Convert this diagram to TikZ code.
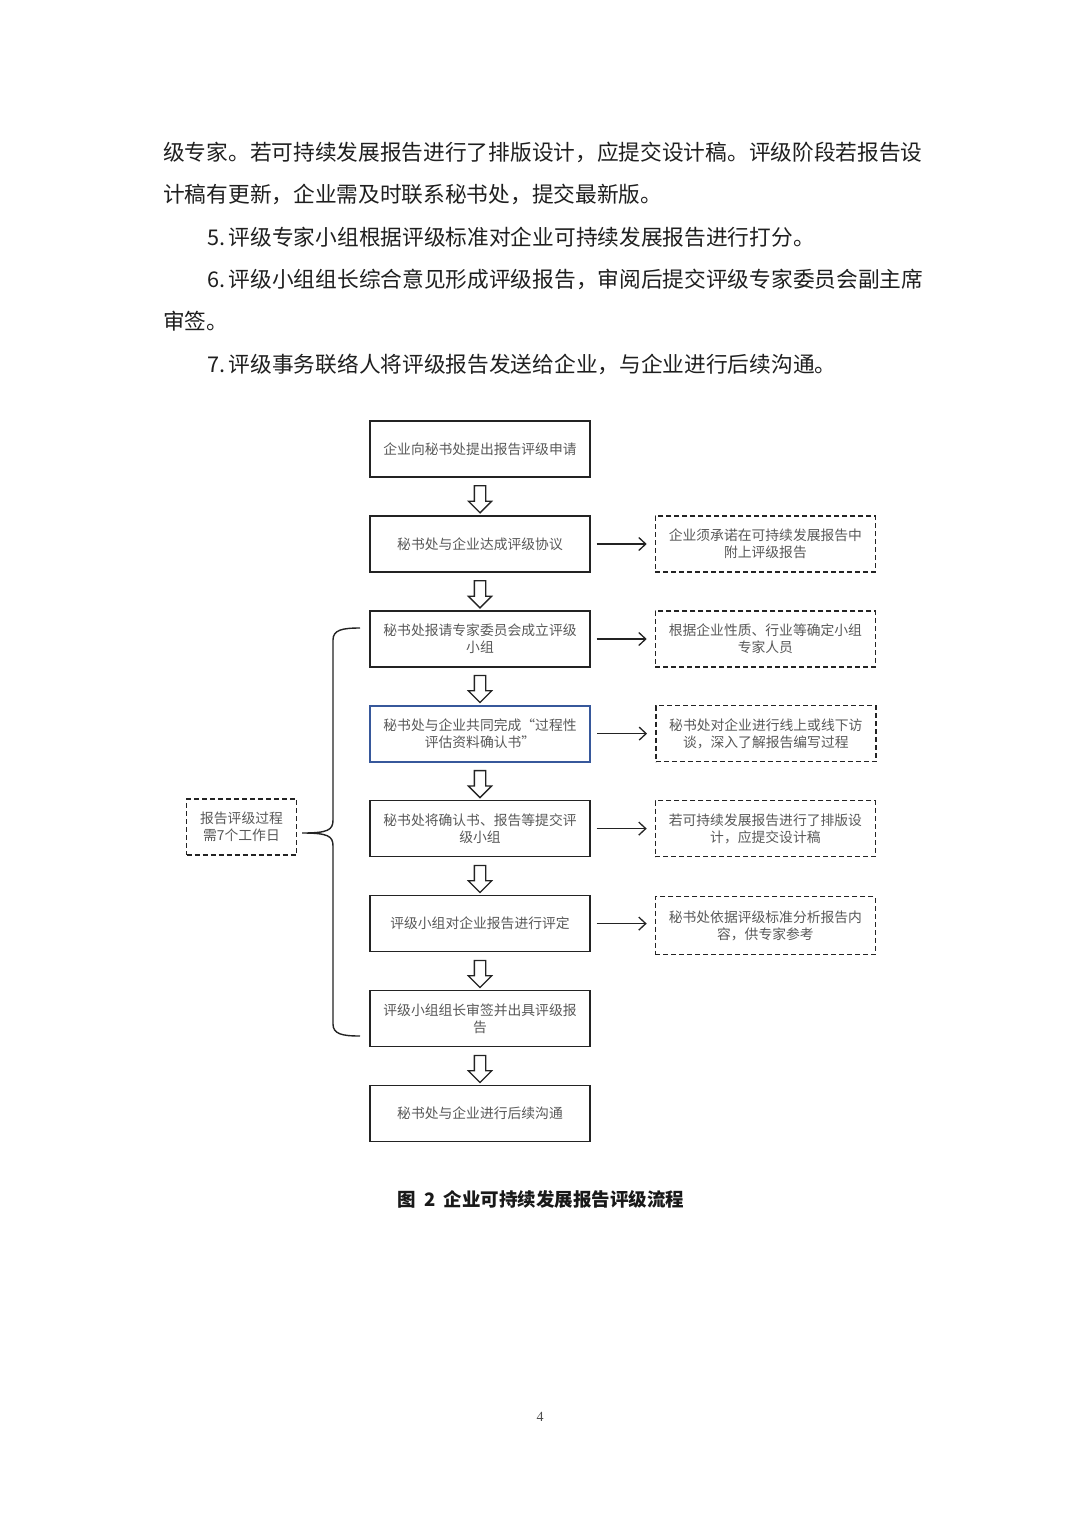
\documentclass[tikz,border=0pt]{standalone}
\usepackage{fontspec}
\setmainfont{Liberation Serif}
\newfontfamily\cjk{Noto Sans CJK SC}
\usetikzlibrary{calc}
\usetikzlibrary{positioning}
\usetikzlibrary{shapes.arrows}
\usetikzlibrary{arrows.meta}

\definecolor{inkgray}{RGB}{88,88,88}
\definecolor{framedark}{RGB}{35,35,35}
\definecolor{frameblue}{RGB}{55,88,155}

\begin{document}
\begin{tikzpicture}[x=1pt, y=-1pt,
        bodyline/.style={anchor=west, inner sep=0pt, text=black!88,
            font=\cjk\fontsize{21.7}{21.7}\selectfont},
        stepbox/.style={draw=framedark, line width=1.4pt, minimum width=220pt,
            minimum height=56pt, align=center, text=inkgray, inner sep=2pt,
            font=\cjk\fontsize{13.8}{17}\selectfont},
        notebox/.style={stepbox, dash pattern=on 5pt off 3pt},
        hollow/.style={single arrow, draw=framedark, fill=white, line width=1.3pt,
            shape border rotate=270, minimum height=27pt, minimum width=22pt,
            inner sep=5pt, single arrow head extend=6pt},
        sidearrow/.style={-{Straight Barb[length=7pt,width=13pt]}, line width=1.3pt,
            draw=framedark}
    ]
    \useasboundingbox (0,0) rectangle (1080,1527);

    % body text
    \node[bodyline] (par1) at (163,152) {级专家。若可持续发展报告进行了排版设计，应提交设计稿。评级阶段若报告设};
    \node[bodyline] (par2) at (163,194) {计稿有更新，企业需及时联系秘书处，提交最新版。};
    \node[bodyline] (par3) at (207,237) {5.\,评级专家小组根据评级标准对企业可持续发展报告进行打分。};
    \node[bodyline] (par4) at (207,279) {6.\,评级小组组长综合意见形成评级报告，审阅后提交评级专家委员会副主席};
    \node[bodyline] (par5) at (163,321) {审签。};
    \node[bodyline] (par6) at (207,364) {7.\,评级事务联络人将评级报告发送给企业，与企业进行后续沟通。};

    % main steps
    \node[stepbox] (apply) at (480,449) {企业向秘书处提出报告评级申请};
    \node[stepbox, below=37.6pt of apply] (agree) {秘书处与企业达成评级协议};
    \node[stepbox, below=37.6pt of agree] (panel) {秘书处报请专家委员会成立评级\\小组};
    \node[stepbox, below=36.8pt of panel, draw=frameblue, line width=2.2pt] (confirm) {秘书处与企业共同完成“过程性\\评估资料确认书”};
    \node[stepbox, below=37.2pt of confirm] (submit) {秘书处将确认书、报告等提交评\\级小组};
    \node[stepbox, below=37.6pt of submit] (assess) {评级小组对企业报告进行评定};
    \node[stepbox, below=37.6pt of assess] (sign) {评级小组组长审签并出具评级报\\告};
    \node[stepbox, below=37.6pt of sign] (follow) {秘书处与企业进行后续沟通};

    % hollow arrows between steps
    \foreach \a/\b in {apply/agree, agree/panel, panel/confirm, confirm/submit,
                       submit/assess, assess/sign, sign/follow}
        \node[hollow] (h-\a) at ($(\a.south)!0.5!(\b.north)$) {};

    % notes on the right
    \node[notebox, right=64pt of agree] (n-agree) {企业须承诺在可持续发展报告中\\附上评级报告};
    \node[notebox, right=64pt of panel] (n-panel) {根据企业性质、行业等确定小组\\专家人员};
    \node[notebox, right=64pt of confirm] (n-confirm) {秘书处对企业进行线上或线下访\\谈，深入了解报告编写过程};
    \node[notebox, right=64pt of submit] (n-submit) {若可持续发展报告进行了排版设\\计，应提交设计稿};
    \node[notebox, right=64pt of assess, yshift=-2pt, minimum height=58pt] (n-assess) {秘书处依据评级标准分析报告内\\容，供专家参考};

    \foreach \s in {agree, panel, confirm, submit}
        \draw[sidearrow] ([xshift=6pt]\s.east) -- ([xshift=-8pt]n-\s.west |- \s.east);
    \draw[sidearrow] ([xshift=6pt]assess.east) -- ([xshift=-8pt]n-assess.west |- assess.east);

    % duration note and brace
    \node[notebox, minimum width=110pt, minimum height=56pt] (span) at (241.5,827) {报告评级过程\\需7个工作日};
    \coordinate (bracetop) at (360,628);
    \coordinate (bracebot) at (360,1036);
    \coordinate (bracetip) at ([xshift=5pt,yshift=-6pt]span.east);
    \draw[line width=1.4pt, draw=framedark]
        (bracetop) .. controls (342,628) and (333,630) .. (333,640)
        -- (333,820) .. controls (333,830) and (328,833) .. (bracetip)
        .. controls (328,833) and (333,836) .. (333,846)
        -- (333,1024) .. controls (333,1034) and (342,1036) .. (bracebot);

    % caption and page number
    \node[font=\cjk\bfseries\fontsize{18.5}{18.5}\selectfont, text=black!90] (caption) at (541,1199) {图\hspace{0.45em}2\hspace{0.45em}企业可持续发展报告评级流程};
    \node[font=\fontsize{14}{14}\selectfont, text=black!70] (pageno) at (540,1417) {4};
\end{tikzpicture}
\end{document}
